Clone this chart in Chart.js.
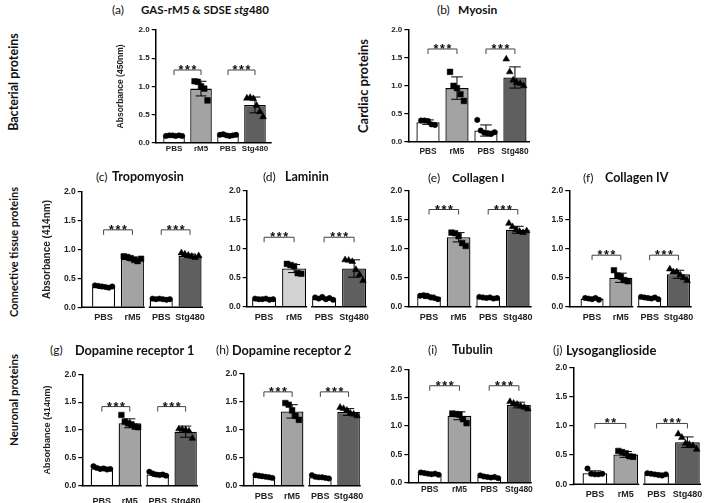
<!DOCTYPE html>
<html><head><meta charset="utf-8">
<script src="https://cdn.jsdelivr.net/npm/chart.js@4.4.1/dist/chart.umd.min.js"></script>
<style>
html,body{margin:0;padding:0;background:#fff;}
#fig{position:relative;width:709px;height:503px;overflow:hidden;background:#fff;}
#fig canvas{position:absolute;}
.t{position:absolute;white-space:nowrap;font-family:Lato,'Open Sans',sans-serif;color:#111;line-height:14px;}
.lab{font-weight:400;}
.nm{font-weight:700;}
.row{position:absolute;white-space:nowrap;font-family:Lato,'Open Sans',sans-serif;font-weight:700;color:#111;transform:translate(-50%,-50%) rotate(-90deg);line-height:14px;}
</style></head><body><div id="fig"></div>
<script>
// ---------- data ----------
const categories = ['PBS', 'rM5', 'PBS', 'Stg480'];
const yTickValues = [0, 0.5, 1.0, 1.5, 2.0];

// (a) GAS-rM5 & SDSE stg480
const aMeans = [0.13, 0.96, 0.13, 0.67];
const aSD = [0.01, 0.13, 0.02, 0.14];
const aPoints = [[0.12, 0.13, 0.13, 0.12, 0.13, 0.12], [1.09, 1.08, 1.0, 0.96, 0.75], [0.14, 0.15, 0.13, 0.12, 0.13, 0.14], [0.79, 0.80, 0.78, 0.66, 0.55, 0.46]];
const aStars = ['***', '***'];
const aBracket = [1.29, 1.29];

// (b) Myosin
const bMeans = [0.35, 0.96, 0.20, 1.15];
const bSD = [0.04, 0.20, 0.10, 0.19];
const bPoints = [[0.38, 0.38, 0.37, 0.31, 0.30], [1.25, 1.0, 0.96, 0.85, 0.73], [0.39, 0.20, 0.16, 0.15, 0.14, 0.17], [1.48, 1.25, 1.10, 1.06, 1.04, 1.0]];
const bStars = ['***', '***'];
const bBracket = [1.66, 1.66];

// (c) Tropomyosin
const cMeans = [0.35, 0.84, 0.14, 0.89];
const cSD = [0.02, 0.03, 0.01, 0.03];
const cPoints = [[0.38, 0.37, 0.36, 0.35, 0.34, 0.36], [0.88, 0.87, 0.85, 0.82, 0.80, 0.84], [0.15, 0.14, 0.15, 0.14, 0.13, 0.14], [0.94, 0.92, 0.90, 0.88, 0.86, 0.89]];
const cStars = ['***', '***'];
const cBracket = [1.34, 1.34];

// (d) Laminin
const dMeans = [0.13, 0.66, 0.14, 0.66];
const dSD = [0.01, 0.07, 0.02, 0.15];
const dPoints = [[0.14, 0.13, 0.13, 0.14, 0.12, 0.13], [0.74, 0.72, 0.70, 0.58, 0.57], [0.16, 0.14, 0.17, 0.13, 0.15, 0.12], [0.81, 0.80, 0.78, 0.64, 0.55, 0.45]];
const dStars = ['***', '***'];
const dBracket = [1.2, 1.2];

// (e) Collagen I
const eMeans = [0.17, 1.20, 0.15, 1.33];
const eSD = [0.03, 0.08, 0.01, 0.06];
const ePoints = [[0.19, 0.20, 0.19, 0.16, 0.15, 0.13], [1.28, 1.27, 1.22, 1.10, 1.05], [0.17, 0.16, 0.15, 0.16, 0.14, 0.15], [1.44, 1.38, 1.33, 1.30, 1.28, 1.31]];
const eStars = ['***', '***'];
const eBracket = [1.68, 1.68];

// (f) Collagen IV
const fMeans = [0.14, 0.50, 0.15, 0.56];
const fSD = [0.01, 0.08, 0.02, 0.07];
const fPoints = [[0.15, 0.14, 0.13, 0.15, 0.12], [0.63, 0.54, 0.52, 0.46, 0.44], [0.17, 0.16, 0.15, 0.14, 0.16, 0.13], [0.65, 0.60, 0.60, 0.55, 0.50, 0.45]];
const fStars = ['***', '***'];
const fBracket = [0.89, 0.89];

// (g) Dopamine receptor 1
const gMeans = [0.31, 1.12, 0.20, 0.97];
const gSD = [0.02, 0.08, 0.03, 0.10];
const gPoints = [[0.35, 0.32, 0.30, 0.31, 0.29, 0.30], [1.27, 1.15, 1.12, 1.10, 1.06, 1.05], [0.25, 0.22, 0.20, 0.19, 0.20, 0.18], [1.02, 1.01, 1.00, 0.98, 0.85]];
const gStars = ['***', '***'];
const gBracket = [1.42, 1.42];

// (h) Dopamine receptor 2
const hMeans = [0.16, 1.33, 0.15, 1.32];
const hSD = [0.02, 0.12, 0.02, 0.06];
const hPoints = [[0.19, 0.18, 0.17, 0.16, 0.15, 0.14], [1.48, 1.45, 1.35, 1.25, 1.18], [0.19, 0.16, 0.15, 0.15, 0.14, 0.13], [1.40, 1.38, 1.35, 1.30, 1.28, 1.25]];
const hStars = ['***', '***'];
const hBracket = [1.68, 1.68];

// (i) Tubulin
const iMeans = [0.16, 1.18, 0.10, 1.37];
const iSD = [0.02, 0.07, 0.02, 0.05];
const iPoints = [[0.18, 0.17, 0.16, 0.15, 0.16, 0.14], [1.22, 1.21, 1.20, 1.12, 1.05], [0.13, 0.11, 0.10, 0.09, 0.10, 0.08], [1.43, 1.40, 1.38, 1.35, 1.33, 1.30]];
const iStars = ['***', '***'];
const iBracket = [1.71, 1.71];

// (j) Lysoganglioside
const jMeans = [0.19, 0.51, 0.17, 0.72];
const jSD = [0.04, 0.05, 0.02, 0.09];
const jPoints = [[0.27, 0.18, 0.17, 0.17, 0.18], [0.57, 0.55, 0.53, 0.48, 0.47], [0.19, 0.18, 0.17, 0.16, 0.15, 0.17], [0.86, 0.80, 0.70, 0.68, 0.66, 0.60]];
const jStars = ['**', '***'];
const jBracket = [1.04, 1.04];

// ---------- layout / styling ----------
const fig = document.getElementById('fig');
const FONT = "'Liberation Sans', Arial, sans-serif";
const shapes = ['circle', 'rect', 'circle', 'triangle'];
const radii = [2.7, 4.0, 2.7, 3.9];

function makeExtras(p) {
  return {
    id: 'extras',
    afterDatasetDraw(chart, args) {
      if (args.index !== 0) return;
      const { ctx, scales: { x, y } } = chart;
      ctx.save();
      ctx.strokeStyle = '#000';
      ctx.lineWidth = 1;
      p.means.forEach((m, i) => {
        const cx = x.getPixelForValue(i);
        const hw = x.getPixelForValue(i + 0.2) - cx;
        const top = y.getPixelForValue(m + p.sd[i]);
        const bot = y.getPixelForValue(Math.max(m - p.sd[i], 0));
        ctx.beginPath();
        ctx.moveTo(cx, top); ctx.lineTo(cx, bot);
        ctx.moveTo(cx - hw, top); ctx.lineTo(cx + hw, top);
        ctx.moveTo(cx - hw, bot); ctx.lineTo(cx + hw, bot);
        ctx.stroke();
      });
      ctx.restore();
    },
    afterDraw(chart) {
      const { ctx, chartArea: a, scales: { x, y } } = chart;
      ctx.save();
      ctx.strokeStyle = '#000';
      ctx.lineWidth = 1.5;
      const yb = y.getPixelForValue(0);
      ctx.beginPath();
      if (p.broken) {
        const mid = x.getPixelForValue(1.5);
        ctx.moveTo(a.left - 0.75, yb); ctx.lineTo(mid - 2, yb);
        ctx.moveTo(mid + 2, yb); ctx.lineTo(a.right, yb);
      } else {
        ctx.moveTo(a.left - 0.75, yb); ctx.lineTo(a.right, yb);
      }
      ctx.stroke();
      ctx.strokeStyle = '#444';
      ctx.lineWidth = 1;
      ctx.fillStyle = '#111';
      ctx.font = 'bold 12.5px ' + FONT;
      ctx.textAlign = 'center';
      ctx.textBaseline = 'alphabetic';
      p.stars.forEach((s, k) => {
        const xl = x.getPixelForValue(2 * k);
        const xr = x.getPixelForValue(2 * k + 1);
        const py = y.getPixelForValue(p.bracket[k]);
        ctx.beginPath();
        ctx.moveTo(xl, py + 5); ctx.lineTo(xl, py); ctx.lineTo(xr, py); ctx.lineTo(xr, py + 5);
        ctx.stroke();
        const cx = (xl + xr) / 2;
        const n = s.length;
        for (let q = 0; q < n; q++) {
          ctx.fillText('*', cx + (q - (n - 1) / 2) * 6.5, py + 4);
        }
      });
      ctx.restore();
    }
  };
}

function makePanel(p) {
  const yW = p.yTitle ? 46 : 28;
  const xH = p.xH || 22;
  const L = Math.round(p.x0 - 2 - yW);
  const padL = p.x0 - yW - L;
  const T = Math.round(p.yT - 8);
  const padT = p.yT - T;
  const W = Math.ceil(padL + yW + (p.x1 - p.x0) + 10);
  const padR = W - (padL + yW + (p.x1 - p.x0));
  const H = Math.ceil(padT + (p.yB - p.yT) + xH);
  const padB = H - (padT + (p.yB - p.yT) + xH);

  const cv = document.createElement('canvas');
  cv.width = W; cv.height = H;
  cv.style.left = L + 'px'; cv.style.top = T + 'px';
  cv.style.width = W + 'px'; cv.style.height = H + 'px';
  fig.appendChild(cv);

  const spread = 0.12;
  const scatter = [];
  p.pts.forEach((arr, c) => {
    arr.forEach((v, j) => scatter.push({ x: c + (j - (arr.length - 1) / 2) * spread, y: v }));
  });
  const grp = (ctx) => Math.round(ctx.raw ? ctx.raw.x : 0);

  new Chart(cv, {
    type: 'bar',
    data: {
      datasets: [
        {
          type: 'bar',
          order: 2,
          data: p.means.map((m, i) => ({ x: i, y: m })),
          backgroundColor: ['#ffffff', p.c1, '#ffffff', p.c2],
          borderColor: '#000',
          borderWidth: 1.3,
          borderSkipped: 'bottom',
          barPercentage: 0.8,
          categoryPercentage: 1.0
        },
        {
          type: 'scatter',
          order: 1,
          data: scatter,
          pointStyle: (ctx) => shapes[grp(ctx)],
          pointRadius: (ctx) => radii[grp(ctx)],
          backgroundColor: '#000',
          borderColor: '#000',
          borderWidth: 0.5
        }
      ]
    },
    options: {
      responsive: false,
      animation: false,
      devicePixelRatio: 1,
      layout: { padding: { left: padL, top: padT, right: padR, bottom: padB } },
      plugins: { legend: { display: false }, tooltip: { enabled: false }, title: { display: false } },
      scales: {
        x: {
          type: 'linear',
          offset: false,
          min: p.xmin,
          max: p.xmax,
          afterBuildTicks: (s) => { s.ticks = categories.map((_, i) => ({ value: i })); },
          afterFit: (s) => { s.height = xH; },
          ticks: {
            callback: (v) => categories[v],
            font: { family: FONT, size: p.xFont, weight: 'bold' },
            color: '#222',
            padding: p.xPad,
            maxRotation: 0,
            autoSkip: false
          },
          grid: { display: false, drawTicks: false },
          border: { display: false }
        },
        y: {
          min: 0,
          max: 2,
          afterBuildTicks: (s) => { s.ticks = yTickValues.map((v) => ({ value: v })); },
          afterFit: (s) => { s.width = yW; },
          ticks: {
            callback: (v) => Number(v).toFixed(1),
            font: { family: FONT, size: p.yFont, weight: 'bold' },
            color: '#222',
            padding: 2
          },
          grid: { display: true, drawOnChartArea: false, drawTicks: true, tickLength: 4, color: '#000', lineWidth: 1.2 },
          border: { display: true, color: '#000', width: 1.5 },
          title: p.yTitle ? {
            display: true,
            text: p.yTitle,
            font: { family: FONT, size: p.yTitleSize, weight: 'bold' },
            color: '#222',
            padding: { top: 6, bottom: 0 }
          } : { display: false }
        }
      }
    },
    plugins: [makeExtras(p)]
  });
}

const LIGHT = '#a3a3a3', LIGHTER = '#d2d2d2', DARK = '#5f5f5f';

makePanel({ x0: 155.7, x1: 271.7, yT: 30, yB: 142.7, xmin: -0.68, xmax: 3.62, xFont: 8, yFont: 8, xPad: 1, yTitle: 'Absorbance (450nm)', yTitleSize: 8.5, broken: false, c1: LIGHT, c2: DARK, means: aMeans, sd: aSD, pts: aPoints, stars: aStars, bracket: aBracket });
makePanel({ x0: 408.3, x1: 530, yT: 30, yB: 141.7, xmin: -0.68, xmax: 3.52, xFont: 8.3, yFont: 8, xPad: 5, broken: false, c1: LIGHT, c2: DARK, means: bMeans, sd: bSD, pts: bPoints, stars: bStars, bracket: bBracket });
makePanel({ x0: 81.7, x1: 203, yT: 191.7, yB: 307.3, xmin: -0.76, xmax: 3.45, xFont: 9, yFont: 8.5, xPad: 5, yTitle: 'Absorbance (414nm)', yTitleSize: 10, broken: true, c1: LIGHT, c2: DARK, means: cMeans, sd: cSD, pts: cPoints, stars: cStars, bracket: cBracket });
makePanel({ x0: 246.7, x1: 366.7, yT: 191, yB: 306.7, xmin: -0.58, xmax: 3.42, xFont: 9, yFont: 8.5, xPad: 5, broken: true, c1: LIGHTER, c2: DARK, means: dMeans, sd: dSD, pts: dPoints, stars: dStars, bracket: dBracket });
makePanel({ x0: 408.3, x1: 531.7, yT: 191, yB: 306.7, xmin: -0.7, xmax: 3.47, xFont: 9, yFont: 8.5, xPad: 5, broken: true, c1: LIGHT, c2: DARK, means: eMeans, sd: eSD, pts: ePoints, stars: eStars, bracket: eBracket });
makePanel({ x0: 569.3, x1: 691.7, yT: 191, yB: 306.7, xmin: -0.79, xmax: 3.46, xFont: 9, yFont: 8.5, xPad: 5, broken: true, c1: LIGHT, c2: DARK, means: fMeans, sd: fSD, pts: fPoints, stars: fStars, bracket: fBracket });
makePanel({ x0: 82.3, x1: 201.7, yT: 374.3, yB: 485.7, xmin: -0.7, xmax: 3.44, xFont: 9, yFont: 8.5, xPad: 10.5, xH: 26, yTitle: 'Absorbance (414nm)', yTitleSize: 9, broken: true, c1: LIGHT, c2: DARK, means: gMeans, sd: gSD, pts: gPoints, stars: gStars, bracket: gBracket });
makePanel({ x0: 243.3, x1: 360.7, yT: 374, yB: 485.7, xmin: -0.73, xmax: 3.43, xFont: 9, yFont: 8.5, xPad: 5.5, broken: true, c1: LIGHT, c2: DARK, means: hMeans, sd: hSD, pts: hPoints, stars: hStars, bracket: hBracket });
makePanel({ x0: 408.3, x1: 531.7, yT: 369.3, yB: 482.7, xmin: -0.72, xmax: 3.43, xFont: 8.5, yFont: 8.5, xPad: 2, broken: false, c1: LIGHT, c2: DARK, means: iMeans, sd: iSD, pts: iPoints, stars: iStars, bracket: iBracket });
makePanel({ x0: 573.3, x1: 701, yT: 367.3, yB: 484.3, xmin: -0.7, xmax: 3.44, xFont: 9, yFont: 8.5, xPad: 5, broken: true, c1: LIGHT, c2: DARK, means: jMeans, sd: jSD, pts: jPoints, stars: jStars, bracket: jBracket });

// ---------- titles & row labels ----------
function addText(html, cls, left, cy, size) {
  const d = document.createElement('div');
  d.className = 't ' + cls;
  d.innerHTML = html;
  d.style.left = left + 'px';
  d.style.top = (cy - 7) + 'px';
  d.style.fontSize = size + 'px';
  fig.appendChild(d);
}
const titles = [
  ['(a)', 112, 'GAS-rM5 &amp; SDSE <i>stg</i>480', 141, 10, 11.5],
  ['(b)', 437, 'Myosin', 458, 10, 12],
  ['(c)', 96, 'Tropomyosin', 112, 177, 12.5],
  ['(d)', 263, 'Laminin', 285, 177, 12.5],
  ['(e)', 428, 'Collagen I', 452, 178, 12],
  ['(f)', 583, 'Collagen IV', 605, 178, 12.5],
  ['(g)', 50, 'Dopamine receptor 1', 75, 350, 12.7],
  ['(h)', 216, 'Dopamine receptor 2', 232, 350, 12.7],
  ['(i)', 428, 'Tubulin', 452, 350, 12.5],
  ['(j)', 553, 'Lysoganglioside', 566, 350, 13]
];
titles.forEach(([lab, lx, nm, nx, cy, sz]) => { addText(lab, 'lab', lx, cy, 12); addText(nm, 'nm', nx, cy, sz); });

function addRow(text, cx, cy, size) {
  const d = document.createElement('div');
  d.className = 'row';
  d.textContent = text;
  d.style.left = cx + 'px';
  d.style.top = cy + 'px';
  d.style.fontSize = size + 'px';
  fig.appendChild(d);
}
addRow('Bacterial proteins', 14, 82, 12.5);
addRow('Cardiac proteins', 363, 86, 13);
addRow('Connective tissue proteins', 14, 252, 11);
addRow('Neuronal proteins', 14, 400, 11.5);
</script>
</body></html>
